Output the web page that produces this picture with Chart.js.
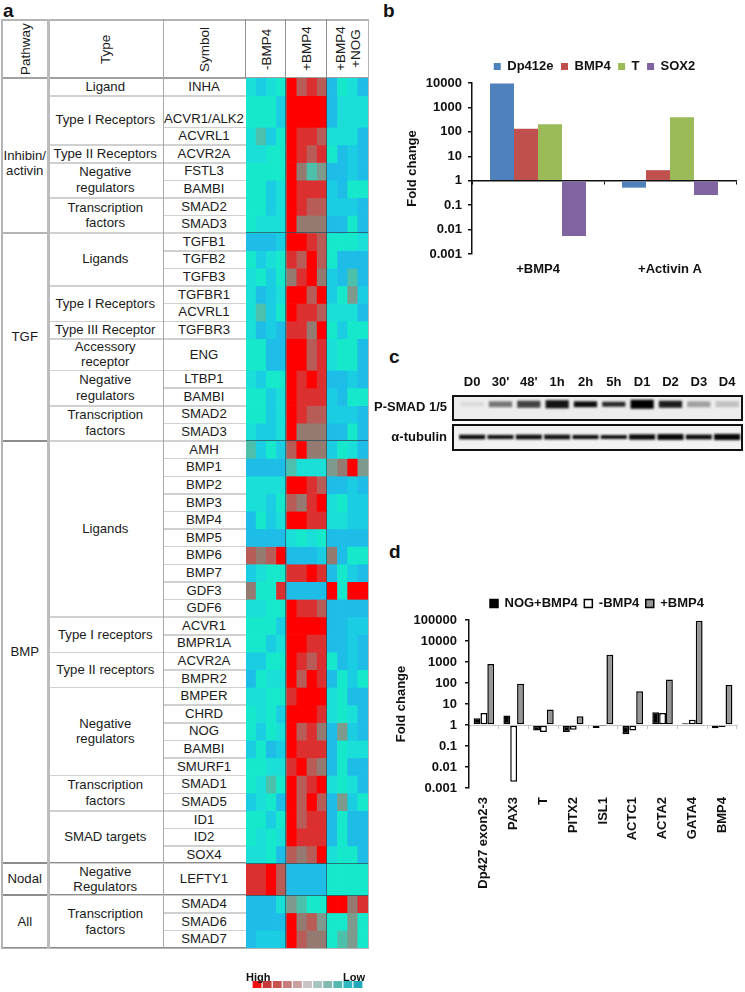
<!DOCTYPE html>
<html>
<head>
<meta charset="utf-8">
<title>BMP4 signalling figure</title>
<script src="https://cdn.jsdelivr.net/npm/chart.js@4"></script>
<style>
  html, body { margin: 0; padding: 0; background: #fff; width: 745px; height: 992px; overflow: hidden; }
  body { position: relative; font-family: "Liberation Sans", Arial, sans-serif; color: #1a1a1a; }
  canvas { position: absolute; display: block; }
  .cell { position: absolute; box-sizing: border-box; display: flex; align-items: center; justify-content: center;
          text-align: center; white-space: pre-line; font-size: 13.2px; line-height: 15.8px; }
  .head { font-size: 13.5px; writing-mode: vertical-rl; transform: rotate(180deg); line-height: 15px; }
  .line { position: absolute; }
  .letter { position: absolute; font-weight: bold; font-size: 19px; line-height: 20px; color: #111; }
  .scale-label { position: absolute; font-weight: bold; font-size: 11px; line-height: 12px; color: #111; }
</style>
</head>
<body>
<div id="table"></div>
<canvas id="heat" width="122" height="870" style="left:245.5px;top:78px"></canvas>
<div id="overlay"></div>
<div class="letter" style="left:3px;top:1px">a</div>
<div class="letter" style="left:383px;top:1px">b</div>
<div class="letter" style="left:389px;top:347px">c</div>
<div class="letter" style="left:389px;top:542px">d</div>
<canvas id="foldB" width="405" height="240" style="left:392px;top:40px"></canvas>
<div class="line" style="left:452px;top:395px;width:291px;height:26px;box-sizing:border-box;border:2px solid #111;background:#ededed"></div>
<div class="line" style="left:452px;top:424px;width:291px;height:27px;box-sizing:border-box;border:2px solid #111;background:#f2f2f2"></div>
<canvas id="blot" width="385" height="76" style="left:360px;top:375px"></canvas>
<canvas id="foldD" width="410" height="310" style="left:392px;top:580px"></canvas>
<canvas id="scaleBar" width="111" height="7" style="left:252px;top:981px"></canvas>
<div class="scale-label" style="left:246px;top:971px">High</div>
<div class="scale-label" style="left:343px;top:971px">Low</div>

<script>
// Panel a, left side of the table
const pathwayNames = ["Inhibin/\nactivin", "TGF", "BMP", "Nodal", "All"];
const pathwayRows = [8, 11, 24, 1, 3];
const typeNames = [
  "Ligand", "Type I Receptors", "Type II Receptors", "Negative\nregulators", "Transcription\nfactors",
  "Ligands", "Type I Receptors", "Type III Receptor", "Accessory\nreceptor", "Negative\nregulators", "Transcription\nfactors",
  "Ligands", "Type I receptors", "Type II receptors", "Negative\nregulators", "Transcription\nfactors", "SMAD targets",
  "Negative\nRegulators",
  "Transcription\nfactors"
];
const typeRows = [1, 2, 1, 2, 2, 3, 2, 1, 1, 2, 2, 10, 2, 2, 5, 2, 3, 1, 3];
const symbols = [
  "INHA", "ACVR1/ALK2", "ACVRL1", "ACVR2A", "FSTL3", "BAMBI", "SMAD2", "SMAD3",
  "TGFB1", "TGFB2", "TGFB3", "TGFBR1", "ACVRL1", "TGFBR3", "ENG", "LTBP1", "BAMBI", "SMAD2", "SMAD3",
  "AMH", "BMP1", "BMP2", "BMP3", "BMP4", "BMP5", "BMP6", "BMP7", "GDF3", "GDF6",
  "ACVR1", "BMPR1A", "ACVR2A", "BMPR2", "BMPER", "CHRD", "NOG", "BAMBI", "SMURF1",
  "SMAD1", "SMAD5", "ID1", "ID2", "SOX4", "LEFTY1", "SMAD4", "SMAD6", "SMAD7"
];
// three rows are drawn taller than the rest
const tallRows = ["ACVR1/ALK2", "ENG", "LEFTY1"];
const rowSpans = symbols.map(s => tallRows.includes(s) ? 1.8 : 1);
const headers = ["Pathway", "Type", "Symbol", "-BMP4", "+BMP4", "+BMP4\n+NOG"];
const samples = ["a1", "a2", "a3", "a4", "b1", "b2", "b3", "b4", "c1", "c2", "c3", "c4"];

// Heatmap levels, 0 = low ... 9 = high
const heatLevels = [
  [2,1,2,3, 9,7,8,7, 0,3,2,0],
  [3,3,3,1, 9,9,9,9, 0,2,2,2],
  [2,4,1,3, 9,8,8,7, 2,2,2,0],
  [2,2,3,3, 9,8,7,8, 3,0,1,0],
  [3,3,3,3, 9,6,4,5, 0,0,1,0],
  [3,3,1,2, 9,8,8,8, 1,0,3,3],
  [3,3,1,2, 9,8,7,7, 1,1,1,0],
  [3,2,2,2, 9,6,6,6, 0,0,3,0],
  [0,0,0,1, 9,9,8,7, 3,3,3,2],
  [3,1,2,3, 8,7,9,7, 3,0,0,0],
  [2,3,1,3, 6,8,9,6, 1,0,4,0],
  [2,0,1,2, 9,9,7,9, 1,3,5,1],
  [2,4,1,3, 9,8,8,7, 2,2,2,0],
  [2,0,1,0, 8,8,6,9, 3,1,3,3],
  [3,3,0,0, 9,9,7,8, 2,3,3,0],
  [2,1,3,3, 9,8,9,8, 0,0,1,0],
  [3,3,1,2, 9,8,8,8, 1,0,3,3],
  [3,3,1,2, 9,8,7,7, 1,1,1,0],
  [2,1,1,2, 9,6,6,6, 0,0,3,0],
  [4,1,3,1, 7,9,6,6, 1,3,2,0],
  [0,0,0,0, 4,2,2,2, 5,6,9,5],
  [2,2,2,2, 9,9,8,7, 0,0,1,0],
  [2,2,1,3, 7,6,8,9, 2,3,1,1],
  [0,3,1,2, 9,9,8,8, 2,2,1,1],
  [0,0,0,0, 2,3,2,3, 0,0,0,0],
  [7,6,7,9, 0,0,0,1, 6,0,3,3],
  [1,2,3,3, 8,8,9,8, 0,3,1,0],
  [6,3,3,8, 0,0,0,0, 9,3,9,9],
  [2,2,3,3, 9,8,8,7, 0,0,0,0],
  [3,3,3,1, 9,9,9,9, 0,0,1,1],
  [3,3,1,2, 9,9,8,8, 0,0,1,0],
  [1,1,3,3, 9,8,7,8, 3,0,1,0],
  [0,3,2,2, 9,7,9,8, 0,3,1,3],
  [2,2,3,3, 8,9,9,9, 2,3,0,0],
  [3,2,3,1, 9,9,9,8, 2,3,2,0],
  [3,1,3,2, 9,7,8,6, 0,5,1,0],
  [1,3,0,1, 9,8,8,8, 0,3,2,2],
  [3,3,2,2, 8,9,7,6, 0,3,0,0],
  [3,2,4,3, 9,7,8,9, 2,3,2,0],
  [1,2,3,0, 9,7,9,7, 0,5,1,3],
  [3,3,1,3, 9,7,8,8, 0,3,0,0],
  [3,2,3,2, 9,8,8,8, 0,3,0,0],
  [2,2,3,0, 7,6,7,9, 2,3,3,0],
  [8,8,9,7, 0,0,0,0, 3,3,3,3],
  [0,0,0,2, 5,4,3,3, 9,9,6,8],
  [0,0,0,0, 9,6,7,5, 3,3,5,3],
  [0,1,1,1, 9,7,6,6, 3,4,5,3]
];
const levelColors = ["#1dbde8", "#1bcde2", "#1adfd8", "#16e8cc", "#4cc0aa", "#7d9a8c", "#957a72", "#b85c58", "#dc3030", "#ff0000"];
const scaleColors = ["#f01010", "#c83a3a", "#c85252", "#c87c7c", "#c8a0a0", "#c8c4c4", "#a8c4c0", "#80bab2", "#52b8b0", "#30b8c0", "#20a8b8"];

// Panel b
const groupsB = ["+BMP4", "+Activin A"];
const dp412e = [9500, 0.52];
const bmp4B = [133, 2.7];
const tB = [206, 400];
const sox2 = [0.0055, 0.26];
const ticksB = [0.001, 0.01, 0.1, 1, 10, 100, 1000, 10000];

// Panel c
const lanes = ["D0", "30'", "48'", "1h", "2h", "5h", "D1", "D2", "D3", "D4"];
const blotRows = ["P-SMAD 1/5", "α-tubulin"];
const pSmadSignal = [0.08, 0.5, 0.72, 0.92, 0.95, 0.82, 1, 0.88, 0.32, 0.18];
const pSmadThick = [0.14, 0.21, 0.25, 0.29, 0.21, 0.18, 0.32, 0.25, 0.21, 0.21];
const tubulinSignal = [0.95, 0.92, 0.93, 0.92, 0.93, 0.93, 0.96, 0.97, 0.95, 0.97];
const tubulinThick = [0.16, 0.15, 0.17, 0.17, 0.15, 0.14, 0.19, 0.21, 0.17, 0.22];

// Panel d
const genesD = ["Dp427 exon2-3", "PAX3", "T", "PITX2", "ISL1", "ACTC1", "ACTA2", "GATA4", "BMP4"];
const nogBmp4 = [2.1, 2.8, 0.54, 0.46, 0.72, 0.36, 4, 1.2, 0.7];
const minusBmp4 = [3.7, 0.002, 0.46, 0.6, 0.97, 0.54, 3.7, 1.8, 0.8];
const plusBmp4 = [800, 93, 5.4, 2.6, 2240, 41, 145, 93000, 80];
const ticksD = [0.001, 0.01, 0.1, 1, 10, 100, 1000, 10000, 100000];

Chart.defaults.font.family = '"Liberation Sans", Arial, sans-serif';
Chart.defaults.color = "#111";
Chart.defaults.animation = false;
Chart.defaults.responsive = false;
Chart.defaults.maintainAspectRatio = false;

// ---- table around the heatmap
const rowUnit = 870 / rowSpans.reduce((a, b) => a + b, 0);
const rowStart = [0];
rowSpans.forEach((s, i) => rowStart.push(rowStart[i] + s));
const yOf = i => 78 + rowStart[i] * rowUnit;

const table = document.getElementById("table");
const overlay = document.getElementById("overlay");

function addCell(x, y, w, h, text, cls, extra) {
  const d = document.createElement("div");
  d.className = "cell " + (cls || "");
  d.style.cssText = `left:${x}px;top:${y}px;width:${w}px;height:${h}px;${extra || ""}`;
  d.textContent = text;
  table.appendChild(d);
}

function addLine(parent, x, y, w, h, color) {
  const d = document.createElement("div");
  d.className = "line";
  d.style.cssText = `left:${x}px;top:${y}px;width:${w}px;height:${h}px;background:${color}`;
  parent.appendChild(d);
}

const colX = [1.5, 48, 162.5, 245.5, 285.5, 326.5, 367.5];
headers.forEach((h, i) => {
  addCell(colX[i], 20, colX[i + 1] - colX[i], 58, h, "head");
});

let at = 0;
pathwayNames.forEach((name, i) => {
  const top = yOf(at), bottom = yOf(at + pathwayRows[i]);
  addCell(colX[0], top, colX[1] - colX[0], bottom - top, name, "", i === 0 ? "padding-top:16px" : "");
  at += pathwayRows[i];
  addLine(table, colX[0], bottom - 1, colX[3] - colX[0], 2, i === 0 ? "#b4b4b4" : "#8c8c8c");
  if (i < pathwayNames.length - 1) addLine(overlay, colX[3], bottom - 0.5, colX[6] - colX[3], 1, "rgba(40,80,90,.75)");
});

at = 0;
typeNames.forEach((name, i) => {
  const top = yOf(at), bottom = yOf(at + typeRows[i]);
  addCell(colX[1], top, colX[2] - colX[1], bottom - top, name);
  at += typeRows[i];
  addLine(table, colX[1], bottom - 0.5, colX[2] - colX[1], 1.5, "#d0d0d0");
});

symbols.forEach((name, i) => {
  const top = yOf(i), bottom = yOf(i + 1);
  addCell(colX[2], top, colX[3] - colX[2], bottom - top, name, "", name === "ACVR1/ALK2" ? "padding-top:15px" : "");
  addLine(table, colX[2], bottom - 0.5, colX[3] - colX[2], 1.5, "#d0d0d0");
});

// frame and column rules
addLine(table, colX[0], 19, colX[6] - colX[0], 1.5, "#b4b4b4");
addLine(table, colX[0], 77, colX[6] - colX[0], 1.5, "#a0a0a0");
addLine(table, colX[0], 947.5, colX[6] - colX[0], 1.5, "#b4b4b4");
addLine(table, colX[0] - 0.5, 19, 1.5, 930, "#b4b4b4");
addLine(table, colX[1] - 1, 19, 2.5, 930, "#bcbcbc");
addLine(table, colX[2], 19, 1.5, 930, "#a8a8a8");
addLine(table, colX[3] - 0.5, 19, 1, 59, "#909090");
addLine(table, colX[4] - 0.5, 19, 1, 59, "#909090");
addLine(table, colX[5] - 0.5, 19, 1, 59, "#909090");
addLine(table, colX[6], 19, 1.5, 930, "#b4b4b4");
addLine(overlay, colX[4] - 0.5, 78, 1, 870, "rgba(40,80,90,.7)");
addLine(overlay, colX[5] - 0.5, 78, 1, 870, "rgba(40,80,90,.7)");

// ---- heatmap, one floating bar per cell
new Chart(document.getElementById("heat"), {
  type: "bar",
  data: {
    labels: samples,
    datasets: symbols.map((name, r) => ({
      label: name,
      data: samples.map(() => [rowStart[r], rowStart[r + 1]]),
      backgroundColor: heatLevels[r].map(l => levelColors[l]),
      grouped: false,
      barPercentage: 1,
      categoryPercentage: 1,
      borderWidth: 0
    }))
  },
  options: {
    layout: { padding: 0 },
    plugins: { legend: { display: false }, tooltip: { enabled: false } },
    scales: {
      x: { display: false },
      y: { display: false, reverse: true, min: 0, max: rowStart[rowStart.length - 1] }
    }
  }
});

// ---- little colour key
new Chart(document.getElementById("scaleBar"), {
  type: "bar",
  data: {
    labels: scaleColors.map((c, i) => i),
    datasets: [{ data: scaleColors.map(() => 1), backgroundColor: scaleColors, barPercentage: 0.88, categoryPercentage: 1 }]
  },
  options: {
    plugins: { legend: { display: false }, tooltip: { enabled: false } },
    scales: { x: { display: false }, y: { display: false, min: 0, max: 1 } }
  }
});

// ---- log bar charts, bars grow from 1
function logBarOptions(cfg) {
  const boldTick = { size: 13, weight: "bold" };
  return {
    layout: { padding: { top: cfg.padTop, right: 0, left: 0, bottom: 0 } },
    plugins: {
      tooltip: { enabled: false },
      legend: {
        position: "top",
        labels: { boxWidth: cfg.box, boxHeight: cfg.box, padding: cfg.legendGap, color: "#111", font: { size: 13, weight: "bold" } }
      }
    },
    scales: {
      x: {
        position: { y: 1 },
        offset: true,
        border: { color: cfg.axisColor, width: cfg.axisWidth },
        grid: { drawOnChartArea: false, drawTicks: true, tickLength: 3, color: cfg.axisColor, offset: true },
        ticks: { display: false }
      },
      x2: {
        type: "category",
        labels: cfg.labels,
        position: "bottom",
        offset: true,
        border: { display: false },
        grid: { display: false, drawTicks: false },
        ticks: { autoSkip: false, padding: cfg.labelPad, minRotation: cfg.rotate, maxRotation: cfg.rotate, font: cfg.labelFont },
        afterFit: s => { s.height = cfg.bottomH; }
      },
      y: {
        type: "logarithmic",
        min: cfg.ticks[0],
        max: cfg.ticks[cfg.ticks.length - 1],
        border: { color: "#111", width: cfg.yWidth },
        grid: { drawOnChartArea: false, drawTicks: true, tickLength: 4, tickColor: "#111", lineWidth: 1.5 },
        afterBuildTicks: s => { s.ticks = cfg.ticks.map(v => ({ value: v })); },
        afterFit: s => { s.width = cfg.leftW; },
        ticks: { autoSkip: false, padding: cfg.tickPad, font: boldTick, callback: v => String(v) },
        title: { display: true, text: "Fold change", font: { size: 13, weight: "bold" }, padding: cfg.titlePad }
      },
      // empty strip on the right, it leaves room so the legend sits where it does in the figure
      yRight: {
        type: "linear",
        position: "right",
        min: 0,
        max: 1,
        border: { display: false },
        grid: { display: false, drawTicks: false },
        ticks: { display: false },
        afterFit: s => { s.width = cfg.rightW; }
      }
    }
  };
}

new Chart(document.getElementById("foldB"), {
  type: "bar",
  data: {
    labels: groupsB,
    datasets: [
      { label: "Dp412e", data: dp412e, backgroundColor: "#4f81bd" },
      { label: "BMP4", data: bmp4B, backgroundColor: "#c0504d" },
      { label: "T", data: tB, backgroundColor: "#9bbb59" },
      { label: "SOX2", data: sox2, backgroundColor: "#8064a2" }
    ].map(d => ({ ...d, base: 1, barPercentage: 1, categoryPercentage: 0.727, borderWidth: 0 }))
  },
  options: logBarOptions({
    labels: groupsB, ticks: ticksB, padTop: 12.5, rightW: 61, box: 7, legendGap: 7.5,
    axisColor: "#111", axisWidth: 1.5, yWidth: 1.5, rotate: 0, labelPad: 8, tickPad: 6,
    labelFont: { size: 13, weight: "bold" }, bottomH: 26, leftW: 80, titlePad: { top: 13, bottom: 0 }
  })
});

new Chart(document.getElementById("blot"), {
  type: "bar",
  data: {
    labels: lanes,
    datasets: [
      { label: blotRows[0], center: 0.33, signal: pSmadSignal, thick: pSmadThick, pct: 0.82 },
      { label: blotRows[1], center: 1.5, signal: tubulinSignal, thick: tubulinThick, pct: 0.92 }
    ].map(r => ({
      label: r.label,
      data: r.signal.map((s, i) => [r.center - r.thick[i] / 2, r.center + r.thick[i] / 2]),
      backgroundColor: r.signal.map(s => { const g = Math.round(235 * (1 - s)); return `rgb(${g},${g},${g})`; }),
      grouped: false,
      barPercentage: r.pct,
      categoryPercentage: 1,
      borderWidth: 0
    }))
  },
  options: {
    layout: { padding: { right: 3.7 } },
    plugins: { legend: { display: false }, tooltip: { enabled: false } },
    scales: {
      x: {
        position: "top",
        border: { display: false },
        grid: { display: false, drawTicks: false },
        ticks: { autoSkip: false, maxRotation: 0, padding: 5, font: { size: 13, weight: "bold" } },
        afterFit: s => { s.height = 20; }
      },
      y: {
        reverse: true,
        min: 0,
        max: 2,
        border: { display: false },
        grid: { display: false, drawTicks: false },
        afterBuildTicks: s => { s.ticks = [{ value: 0.45 }, { value: 1.5 }]; },
        afterFit: s => { s.width = 98; s.paddingTop = 0; s.paddingBottom = 0; },
        ticks: { autoSkip: false, padding: 11, font: { size: 13, weight: "bold" }, callback: v => v < 1 ? blotRows[0] : blotRows[1] }
      }
    }
  },
  plugins: [{
    id: "softBands",
    beforeDatasetsDraw(chart) { chart.ctx.save(); chart.ctx.filter = "blur(1.2px)"; },
    afterDatasetsDraw(chart) { chart.ctx.restore(); }
  }]
});

new Chart(document.getElementById("foldD"), {
  type: "bar",
  data: {
    labels: genesD,
    datasets: [
      { label: "NOG+BMP4", data: nogBmp4, backgroundColor: "#000" },
      { label: "-BMP4", data: minusBmp4, backgroundColor: "#fff" },
      { label: "+BMP4", data: plusBmp4, backgroundColor: "#969696" }
    ].map(d => ({ ...d, base: 1, barPercentage: 1, categoryPercentage: 0.69, borderColor: "#000", borderWidth: 1.5, borderSkipped: false }))
  },
  options: logBarOptions({
    labels: genesD, ticks: ticksD, padTop: 10.5, rightW: 65, box: 8, legendGap: 6.5,
    axisColor: "#c4c4c4", axisWidth: 1, yWidth: 1.5, rotate: 90, labelPad: 9, tickPad: 8,
    labelFont: { size: 13, weight: "bold" }, bottomH: 102, leftW: 77, titlePad: { top: 2, bottom: 0 }
  })
});
</script>
</body>
</html>
